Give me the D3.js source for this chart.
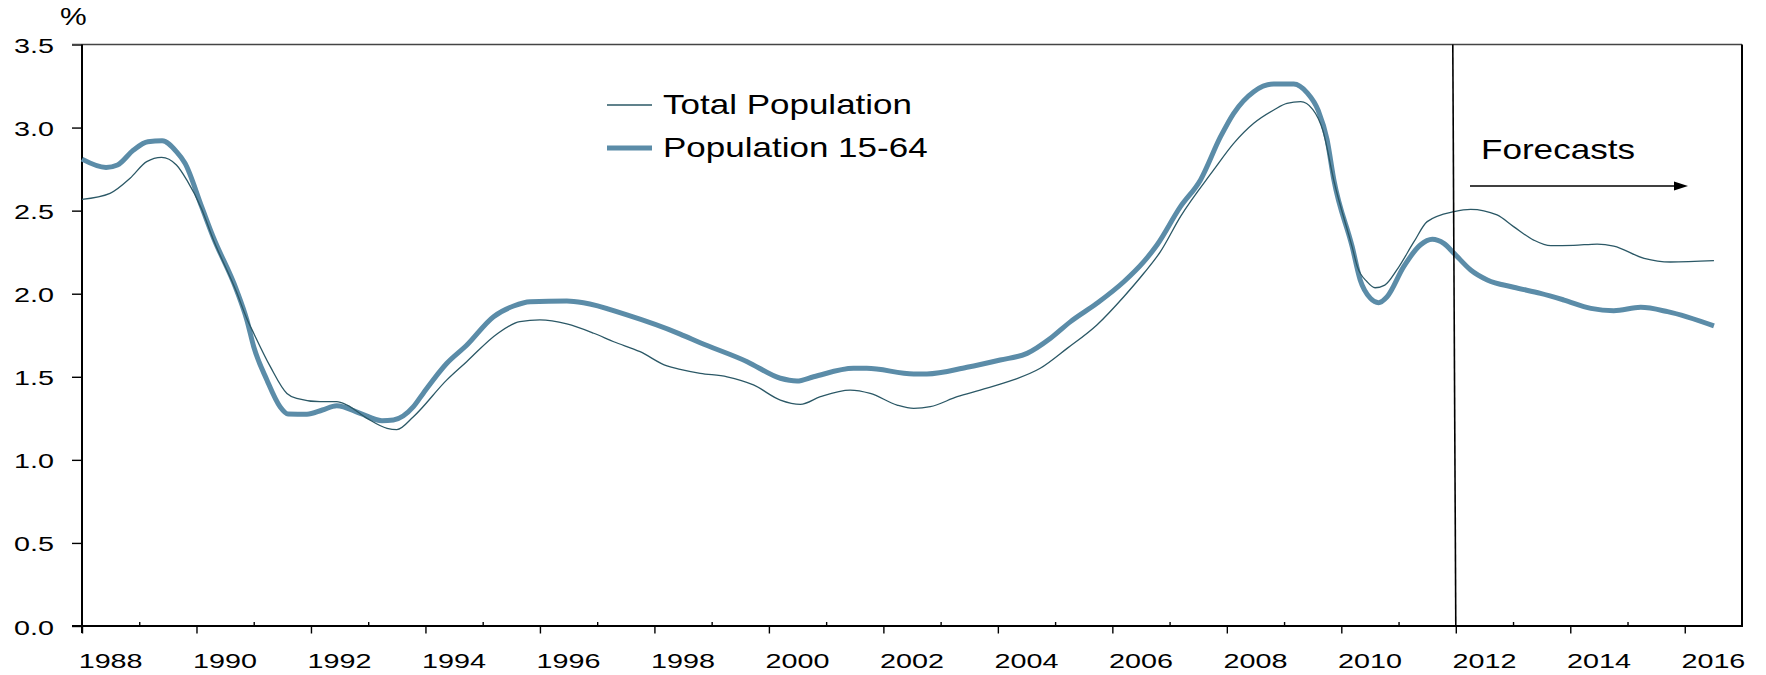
<!DOCTYPE html>
<html>
<head>
<meta charset="utf-8">
<script src="https://cdn.jsdelivr.net/npm/d3@7/dist/d3.min.js"></script>
<style>
  html, body { margin: 0; padding: 0; background: #ffffff; }
  svg { display: block; }
  text { font-family: "Liberation Sans", Arial, Helvetica, sans-serif; fill: #000; }
</style>
</head>
<body>
<svg id="chart" width="1766" height="675"></svg>
<script>
// ---------------- DATA ----------------
const yTicks = [0, 0.5, 1.0, 1.5, 2.0, 2.5, 3.0, 3.5];
const xLabels = ["1988", "1990", "1992", "1994", "1996", "1998", "2000", "2002", "2004", "2006", "2008", "2010", "2012", "2014", "2016"];
const seriesNames = ["Total Population", "Population 15-64"];
const forecastStart = 2012;
const forecastLabel = "Forecasts";
const unitLabel = "%";

// Total Population (thin line)
const totalYears = [1988.0, 1988.49, 1988.84, 1989.13, 1989.39, 1989.65, 1989.83, 1990.09, 1990.29, 1990.7, 1990.88, 1991.0,
  1991.29, 1991.58, 1991.75, 1992.16, 1992.45, 1992.63, 1992.98, 1993.33, 1993.5, 1993.79, 1994.37, 1994.72,
  1995.25, 1995.65, 1996.0, 1996.47, 1996.94, 1997.29, 1997.75, 1998.22, 1998.45, 1998.8, 1999.27, 1999.73,
  2000.2, 2000.55, 2000.9, 2001.42, 2001.77, 2002.24, 2002.53, 2002.82, 2003.29, 2003.69, 2004.27, 2004.74,
  2005.21, 2005.73, 2006.2, 2006.55, 2006.84, 2007.19, 2007.77, 2008.12, 2008.47, 2008.82, 2009.05, 2009.29,
  2009.5, 2009.68, 2009.87, 2010.19, 2010.28, 2010.45, 2010.59, 2010.76, 2010.97, 2011.27, 2011.5, 2011.97,
  2012.26, 2012.72, 2013.01, 2013.36, 2013.66, 2014.06, 2014.47, 2014.76, 2015.29, 2015.75, 2016.51];
const totalValues = [2.568, 2.604, 2.695, 2.795, 2.821, 2.775, 2.685, 2.51, 2.33, 2.01, 1.85, 1.762,
  1.561, 1.40, 1.37, 1.35, 1.35, 1.33, 1.25, 1.19, 1.182, 1.26, 1.48, 1.591,
  1.758, 1.832, 1.842, 1.818, 1.762, 1.711, 1.651, 1.565, 1.545, 1.521, 1.50, 1.451,
  1.36, 1.334, 1.38, 1.42, 1.40, 1.33, 1.31, 1.32, 1.38, 1.42, 1.481, 1.551,
  1.671, 1.812, 1.982, 2.123, 2.253, 2.464, 2.745, 2.905, 3.026, 3.106, 3.146, 3.156,
  3.11, 2.98, 2.68, 2.28, 2.163, 2.072, 2.036, 2.052, 2.143, 2.313, 2.434, 2.494,
  2.508, 2.474, 2.404, 2.323, 2.289, 2.291, 2.299, 2.287, 2.213, 2.191, 2.199];

// Population 15-64 (thick line)
const workYears = [1988.0, 1988.42, 1988.62, 1988.9, 1989.15, 1989.4, 1989.65, 1989.8, 1990.09, 1990.29, 1990.7, 1990.88,
  1991.0, 1991.23, 1991.46, 1991.6, 1991.93, 1992.2, 1992.45, 1992.86, 1993.24, 1993.44, 1993.79, 1993.96,
  1994.37, 1994.72, 1995.19, 1995.54, 1995.83, 1996.47, 1996.76, 1997.52, 1998.45, 1998.8, 1999.62, 2000.2,
  2000.49, 2000.78, 2001.48, 2001.71, 2002.53, 2002.76, 2003.46, 2004.04, 2004.51, 2004.92, 2005.27, 2005.73,
  2006.2, 2006.55, 2006.78, 2007.19, 2007.54, 2007.89, 2008.12, 2008.47, 2008.82, 2009.17, 2009.4, 2009.6,
  2009.75, 2009.87, 2010.19, 2010.33, 2010.51, 2010.65, 2010.8, 2011.09, 2011.38, 2011.59, 2011.79, 2011.97,
  2012.26, 2012.55, 2013.01, 2013.48, 2013.89, 2014.36, 2014.76, 2015.23, 2015.7, 2016.51];
const workValues = [2.81, 2.76, 2.775, 2.865, 2.915, 2.92, 2.855, 2.785, 2.524, 2.343, 2.022, 1.842,
  1.681, 1.481, 1.32, 1.276, 1.274, 1.30, 1.326, 1.28, 1.236, 1.24, 1.32, 1.40,
  1.58, 1.69, 1.862, 1.926, 1.952, 1.956, 1.946, 1.872, 1.757, 1.705, 1.591, 1.491,
  1.475, 1.50, 1.551, 1.551, 1.517, 1.517, 1.557, 1.601, 1.641, 1.732, 1.832, 1.942,
  2.072, 2.193, 2.293, 2.524, 2.685, 2.945, 3.086, 3.216, 3.262, 3.262, 3.21, 3.10,
  2.93, 2.685, 2.283, 2.083, 1.972, 1.946, 1.982, 2.163, 2.293, 2.328, 2.303, 2.243,
  2.143, 2.083, 2.039, 2.002, 1.962, 1.912, 1.898, 1.918, 1.892, 1.806];

// ---------------- CHART ----------------
const svg = d3.select("#chart");
const x = d3.scaleLinear().domain([1988, 2017]).range([82, 1742]);
const y = d3.scaleLinear().domain([0, 3.5]).range([626, 44.5]);

const thinColor = "#2b5866";
const thickColor = "#5b8ca8";
const SX_TICK = 1.37, SX_LEG = 1.25, SX_FC = 1.3;

function stretchedText(g, tx, ty, str, size, sx, anchor) {
  return g.append("text")
    .attr("transform", `translate(${tx},${ty}) scale(${sx},1)`)
    .attr("text-anchor", anchor || "start")
    .style("font-size", size + "px")
    .text(str);
}

// Y axis ticks
const yAxis = d3.axisLeft(y).tickValues(yTicks).tickSize(10).tickFormat(d3.format(".1f"));
const gy = svg.append("g").attr("transform", `translate(${x(1988)},0)`).call(yAxis);
gy.select(".domain").remove();
gy.selectAll(".tick line").attr("stroke", "#000").attr("stroke-width", 1.4);
gy.selectAll(".tick text")
  .attr("x", null).attr("dy", null)
  .attr("transform", `translate(-28,8) scale(${SX_TICK},1)`)
  .attr("text-anchor", "end")
  .style("font-size", "21px")
  .style("font-family", '"Liberation Sans", Arial, sans-serif')
  .attr("fill", "#000");

// X axis ticks: even years downward, odd years upward
const evenYears = d3.range(1988, 2017, 2);
const oddYears = d3.range(1989, 2017, 2);
const gxMaj = svg.append("g").attr("transform", `translate(0,${y(0)})`)
  .call(d3.axisBottom(x).tickValues(evenYears).tickSize(7.5).tickFormat(""));
gxMaj.select(".domain").remove();
gxMaj.selectAll(".tick line").attr("stroke", "#000").attr("stroke-width", 1.4);
const gxMin = svg.append("g").attr("transform", `translate(0,${y(0)})`)
  .call(d3.axisTop(x).tickValues(oddYears).tickSize(4).tickFormat(""));
gxMin.select(".domain").remove();
gxMin.selectAll(".tick line").attr("stroke", "#000").attr("stroke-width", 1.4);

// X labels centred in each labelled year
const gxl = svg.append("g");
xLabels.forEach(lab => {
  stretchedText(gxl, x(+lab + 0.5), 668, lab, 21, SX_TICK, "middle");
});

// Frame
svg.append("line").attr("x1", 72).attr("x2", x(2017)).attr("y1", y(3.5)).attr("y2", y(3.5))
  .attr("stroke", "#444").attr("stroke-width", 1.6);
svg.append("line").attr("x1", x(2017)).attr("x2", x(2017)).attr("y1", y(3.5)).attr("y2", y(0))
  .attr("stroke", "#000").attr("stroke-width", 2);
svg.append("line").attr("x1", x(1988)).attr("x2", x(1988)).attr("y1", y(3.5)).attr("y2", y(0) + 7)
  .attr("stroke", "#000").attr("stroke-width", 2);
svg.append("line").attr("x1", 72).attr("x2", x(2017) + 1).attr("y1", y(0)).attr("y2", y(0))
  .attr("stroke", "#000").attr("stroke-width", 2);

// Lines
const line = d3.line().x(d => x(d[0])).y(d => y(d[1])).curve(d3.curveMonotoneX);
const totalData = totalYears.map((t, i) => [t, totalValues[i]]);
const workData = workYears.map((t, i) => [t, workValues[i]]);

svg.append("path").datum(workData).attr("d", line)
  .attr("fill", "none").attr("stroke", thickColor).attr("stroke-width", 5)
  .attr("stroke-linejoin", "round");
svg.append("path").datum(totalData).attr("d", line)
  .attr("fill", "none").attr("stroke", thinColor).attr("stroke-width", 1.3)
  .attr("stroke-linejoin", "round");

// Forecast divider (slightly slanted as in the original)
svg.append("line")
  .attr("x1", x(forecastStart) - 3).attr("y1", y(3.5))
  .attr("x2", x(forecastStart)).attr("y2", y(0))
  .attr("stroke", "#000").attr("stroke-width", 1.6);

// Forecast label and arrow
stretchedText(svg, 1481, 159, forecastLabel, 27, SX_FC, "start");
svg.append("line").attr("x1", 1470).attr("x2", 1676).attr("y1", 186).attr("y2", 186)
  .attr("stroke", "#000").attr("stroke-width", 1.6);
svg.append("path").attr("d", "M1674,181.5 L1688,186 L1674,190.5 Z").attr("fill", "#000");

// Unit label
stretchedText(svg, 60, 25, unitLabel, 24, 1.25, "start");

// Legend
const leg = svg.append("g");
leg.append("line").attr("x1", 607).attr("x2", 652).attr("y1", 105).attr("y2", 105)
  .attr("stroke", thinColor).attr("stroke-width", 1.3);
stretchedText(leg, 663, 113.5, seriesNames[0], 28, SX_LEG, "start");
leg.append("line").attr("x1", 607).attr("x2", 652).attr("y1", 148).attr("y2", 148)
  .attr("stroke", thickColor).attr("stroke-width", 5);
stretchedText(leg, 663, 157, seriesNames[1], 28, SX_LEG, "start");
</script>
</body>
</html>
